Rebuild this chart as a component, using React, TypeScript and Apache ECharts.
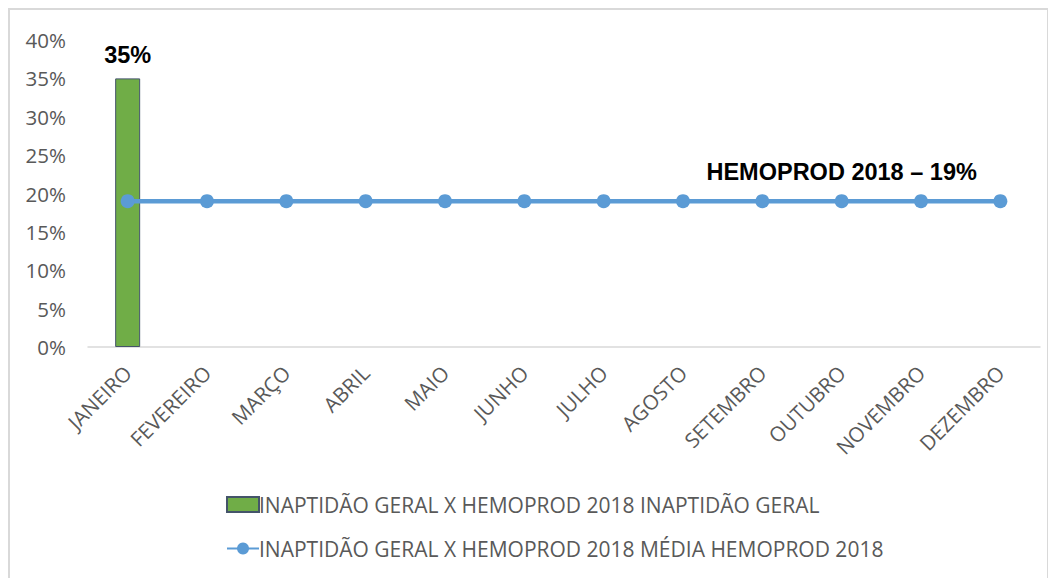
import React, { useEffect, useRef } from "react";
import * as echarts from "echarts";

const months = ["JANEIRO", "FEVEREIRO", "MARÇO", "ABRIL", "MAIO", "JUNHO", "JULHO", "AGOSTO", "SETEMBRO", "OUTUBRO", "NOVEMBRO", "DEZEMBRO"];
const inaptidaoGeral: (number | string)[] = [35, "-", "-", "-", "-", "-", "-", "-", "-", "-", "-", "-"];
const mediaHemoprod = [19, 19, 19, 19, 19, 19, 19, 19, 19, 19, 19, 19];
const yTicks = { min: 0, max: 40, interval: 5 };
const seriesNames = [
  "INAPTIDÃO GERAL X HEMOPROD 2018 INAPTIDÃO GERAL",
  "INAPTIDÃO GERAL X HEMOPROD 2018 MÉDIA HEMOPROD 2018",
];
const lineLabelIndex = 9;
const lineLabelText = "HEMOPROD 2018 – 19%";

const FONT = "'Open Sans', sans-serif";
const BOLD_FONT = "'Liberation Sans', Arial, sans-serif";

export default function App() {
  const ref = useRef<HTMLDivElement>(null);
  useEffect(() => {
    if (!ref.current) return;
    const chart = echarts.init(ref.current, null, { renderer: "svg" });
    chart.setOption({
      animation: false,
      textStyle: { fontFamily: FONT },
      grid: { left: 78, top: 30, width: 952, height: 307, containLabel: false },
      xAxis: {
        type: "category",
        data: months,
        axisLine: { lineStyle: { color: "#d9d9d9", width: 1.5 } },
        axisTick: { show: false },
        axisLabel: { rotate: 45, color: "#595959", fontSize: 20.5, fontFamily: FONT, margin: 22, interval: 0 },
      },
      yAxis: {
        type: "value",
        min: yTicks.min,
        max: yTicks.max,
        interval: yTicks.interval,
        splitLine: { show: false },
        axisLine: { show: false },
        axisTick: { show: false },
        axisLabel: { formatter: "{value}%", color: "#595959", fontSize: 20.5, fontFamily: FONT, margin: 22 },
      },
      legend: {
        orient: "vertical",
        left: 211,
        top: 479,
        itemGap: 23,
        itemWidth: 32,
        itemHeight: 15,
        textStyle: { color: "#595959", fontSize: 21, fontFamily: FONT, padding: [0, 0, 0, -5] },
        data: [
          { name: seriesNames[0], icon: "rect" },
          { name: seriesNames[1] },
        ],
      },
      series: [
        {
          name: seriesNames[0],
          type: "bar",
          data: inaptidaoGeral,
          barWidth: 25,
          itemStyle: { color: "#70ad47", borderColor: "#44546a", borderWidth: 1 },
          label: {
            show: true,
            position: "top",
            formatter: "{c}%",
            color: "#000",
            fontWeight: "bold",
            fontSize: 23.5,
            fontFamily: BOLD_FONT,
            distance: 11,
          },
          z: 1,
        },
        {
          name: seriesNames[1],
          type: "line",
          data: mediaHemoprod.map((v, i) =>
            i === lineLabelIndex
              ? {
                  value: v,
                  label: {
                    show: true,
                    position: "top",
                    formatter: lineLabelText,
                    color: "#000",
                    fontWeight: "bold",
                    fontSize: 23.5,
                    fontFamily: BOLD_FONT,
                    distance: 10,
                  },
                }
              : v
          ),
          symbol: "circle",
          symbolSize: 14,
          lineStyle: { color: "#5b9bd5", width: 4.5 },
          itemStyle: { color: "#5b9bd5" },
          z: 3,
        },
      ],
    });
    return () => chart.dispose();
  }, []);
  return (
    <div style={{ width: 1041, height: 590, border: "2px solid #d9d9d9", boxSizing: "border-box", overflow: "hidden" }}>
      <div ref={ref} style={{ width: 1037, height: 586 }} />
    </div>
  );
}
